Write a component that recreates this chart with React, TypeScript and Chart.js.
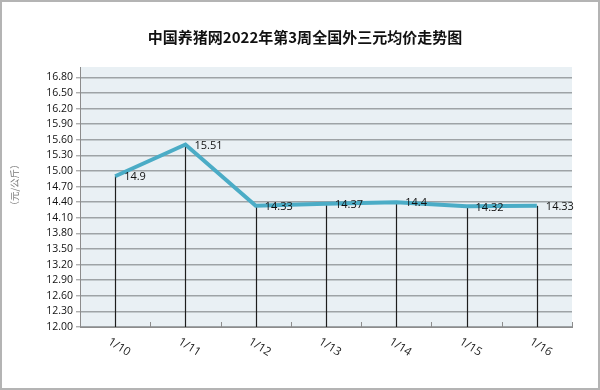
import React, { useEffect, useRef } from "react";
import { Chart, registerables } from "chart.js";

Chart.register(...registerables);

const titleText = "中国养猪网2022年第3周全国外三元均价走势图";
const yAxisTitle = "（元/公斤）";
const categories = ["1/10", "1/11", "1/12", "1/13", "1/14", "1/15", "1/16"];
const prices = [14.9, 15.51, 14.33, 14.37, 14.4, 14.32, 14.33];
const priceLabels = ["14.9", "15.51", "14.33", "14.37", "14.4", "14.32", "14.33"];
const yTicks = [12.0, 12.3, 12.6, 12.9, 13.2, 13.5, 13.8, 14.1, 14.4, 14.7, 15.0, 15.3, 15.6, 15.9, 16.2, 16.5, 16.8];

const decorPlugin = {
  id: "decor",
  beforeDraw(chart: any) {
    const { ctx, chartArea: a, width, height } = chart;
    ctx.save();
    ctx.fillStyle = "#ffffff";
    ctx.fillRect(0, 0, width, height);
    ctx.strokeStyle = "#b4b4b4";
    ctx.lineWidth = 2;
    ctx.strokeRect(1, 1, width - 2, height - 2);
    ctx.fillStyle = "#e9f0f4";
    ctx.fillRect(a.left, a.top, a.right - a.left, a.bottom - a.top);
    ctx.restore();
  },
  beforeDatasetsDraw(chart: any) {
    const { ctx, chartArea: a } = chart;
    const meta = chart.getDatasetMeta(0);
    ctx.save();
    const xs = chart.scales.x;
    const n = categories.length;
    const step = (a.right - a.left) / n;
    ctx.strokeStyle = "#8c8c8c";
    ctx.lineWidth = 1;
    for (let i = 1; i <= n; i++) {
      const x = Math.round(xs.getPixelForValue(i - 1) + step / 2) + 0.5;
      ctx.beginPath();
      ctx.moveTo(x, a.bottom);
      ctx.lineTo(x, a.bottom - 5);
      ctx.stroke();
    }
    ctx.strokeStyle = "#1e1e1e";
    ctx.lineWidth = 1.2;
    meta.data.forEach((p: any) => {
      const x = Math.round(p.x) + 0.5;
      ctx.beginPath();
      ctx.moveTo(x, p.y);
      ctx.lineTo(x, a.bottom);
      ctx.stroke();
    });
    ctx.restore();
  },
  afterDatasetsDraw(chart: any) {
    const { ctx, chartArea: a } = chart;
    const meta = chart.getDatasetMeta(0);
    ctx.save();
    ctx.font = "11px 'Open Sans'";
    ctx.fillStyle = "#111";
    ctx.textAlign = "left";
    ctx.textBaseline = "middle";
    meta.data.forEach((p: any, i: number) => {
      ctx.fillText(priceLabels[i], p.x + 9, p.y + 1);
    });
    const xs = chart.scales.x;
    ctx.font = "11.5px 'Open Sans'";
    ctx.fillStyle = "#222";
    ctx.textAlign = "center";
    categories.forEach((c, i) => {
      const x = xs.getPixelForValue(i);
      ctx.save();
      ctx.translate(x + 4, a.bottom + 20);
      ctx.rotate((32 * Math.PI) / 180);
      ctx.fillText(c, 0, 0);
      ctx.restore();
    });
    ctx.font = "bold 15px 'Noto Sans CJK SC'";
    ctx.fillStyle = "#111";
    ctx.textAlign = "center";
    ctx.fillText(titleText, 305, 37);
    ctx.save();
    ctx.translate(14, 185);
    ctx.rotate(-Math.PI / 2);
    ctx.font = "9.5px 'Noto Sans CJK SC'";
    ctx.fillStyle = "#777";
    ctx.fillText(yAxisTitle, 0, 0);
    ctx.restore();
    ctx.restore();
  },
};

export default function App() {
  const ref = useRef<HTMLCanvasElement | null>(null);
  useEffect(() => {
    if (!ref.current) return;
    const chart = new Chart(ref.current, {
      type: "line",
      data: {
        labels: categories,
        datasets: [
          {
            data: prices,
            borderColor: "#4bacc6",
            borderWidth: 4,
            pointRadius: 0,
            tension: 0,
            fill: false,
          },
        ],
      },
      options: {
        responsive: false,
        animation: false,
        layout: { padding: { top: 67, right: 28, left: 0, bottom: 0 } },
        plugins: { legend: { display: false }, title: { display: false }, tooltip: { enabled: false } },
        scales: {
          x: {
            type: "category",
            offset: true,
            grid: { display: false },
            ticks: { display: false },
            border: { display: true, color: "#8c8c8c", width: 1 },
            afterFit(s: any) {
              s.height = 63;
            },
          },
          y: {
            min: 12,
            max: 17,
            afterBuildTicks(s: any) {
              s.ticks = yTicks.map((v) => ({ value: v }));
            },
            ticks: {
              callback: (v: any) => Number(v).toFixed(2),
              font: { family: "'Open Sans'", size: 10.5 },
              color: "#111",
              padding: 3,
            },
            grid: { color: "#9ea3a6", lineWidth: 1.6, tickLength: 4, tickColor: "#8c8c8c", tickWidth: 1 },
            border: { display: true, color: "#8c8c8c", width: 1 },
            afterFit(s: any) {
              s.width = 80;
            },
          },
        },
      },
      plugins: [decorPlugin],
    } as any);
    return () => chart.destroy();
  }, []);
  return (
    <div style={{ position: "absolute", left: 0, top: 0, width: 600, height: 390 }}>
      <canvas ref={ref} width={600} height={390} style={{ width: 600, height: 390, display: "block" }} />
    </div>
  );
}
